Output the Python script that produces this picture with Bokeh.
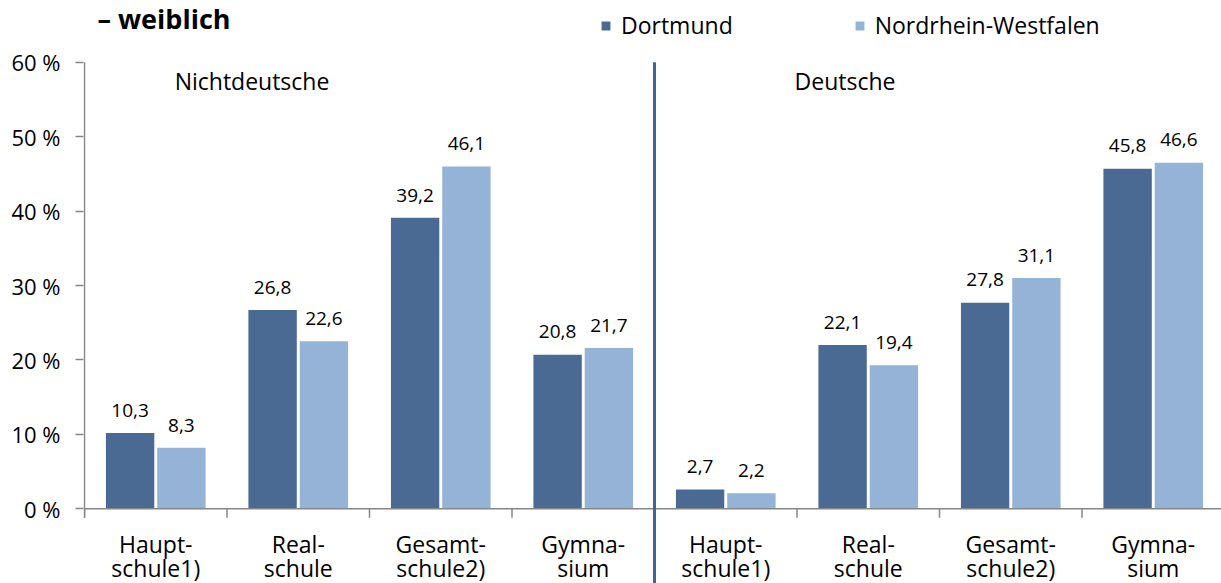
from bokeh.plotting import figure
from bokeh.models import Range1d, FixedTicker, Label, Legend, LegendItem, ColumnDataSource
from bokeh.core.properties import value
from bokeh.embed import file_html
from bokeh.resources import INLINE

# ---------------- data ----------------
title_text = "– weiblich"
groups = ["Nichtdeutsche", "Deutsche"]
schools = ["Haupt-\nschule1)", "Real-\nschule", "Gesamt-\nschule2)", "Gymna-\nsium"]
series = ["Dortmund", "Nordrhein-Westfalen"]
dortmund = [10.3, 26.8, 39.2, 20.8, 2.7, 22.1, 27.8, 45.8]
nrw = [8.3, 22.6, 46.1, 21.7, 2.2, 19.4, 31.1, 46.6]
y_ticks = [0, 10, 20, 30, 40, 50, 60]

# ---------------- styles / layout ----------------
FONT = "Open Sans"
C_DO = "#4A6A94"
C_NRW = "#95B3D7"
C_AXIS = "#868686"
C_DIV = "#3F6597"

PAGE_OFF = 0             # figure's top-left position on the page
W, H = 1221, 583
AXIS_PAGE_X = 84         # page x of the y axis
LEFT = AXIS_PAGE_X - 1 - PAGE_OFF
PX_CAT = 142.5           # pixels per category
PX_PCT = 7.443           # pixels per percent
ZERO_PAGE = 508.3        # page y of 0 %
FRAME_LEFT_PAGE = PAGE_OFF + LEFT
x_start = (FRAME_LEFT_PAGE - AXIS_PAGE_X) / PX_CAT
x_end = (PAGE_OFF + W - AXIS_PAGE_X) / PX_CAT
y_end = (ZERO_PAGE - PAGE_OFF) / PX_PCT
y_start = (ZERO_PAGE - (PAGE_OFF + H)) / PX_PCT
GLYPH_TXT_SHIFT = 6      # renderer draws text a bit low; compensate
LABEL_TXT_SHIFT = 8


def dx(page_x):
    return (page_x - AXIS_PAGE_X) / PX_CAT


def dy(page_y):
    return (ZERO_PAGE - page_y) / PX_PCT


n = len(schools) * len(groups)
cat_labels = schools * len(groups)
centers = [i + 0.5 for i in range(n)]
off = 0.18
bw = 0.35


def fmt(v):
    return f"{v:.1f}".replace(".", ",")


src = ColumnDataSource(dict(
    xd=[c - off for c in centers],
    xn=[c + off for c in centers],
    dortmund=dortmund,
    nrw=nrw,
    ld=[fmt(v) for v in dortmund],
    ln=[fmt(v) for v in nrw],
))

p = figure(width=W, height=H, x_range=Range1d(x_start, x_end), y_range=Range1d(y_start, y_end),
           output_backend="svg", toolbar_location=None, x_axis_location=None,
           min_border_left=LEFT, min_border_right=0, min_border_top=0, min_border_bottom=0)
p.grid.visible = False
p.outline_line_color = None

# y axis
ya = p.yaxis[0]
ya.ticker = FixedTicker(ticks=y_ticks)
ya.major_label_overrides = {t: f"{t} %" for t in y_ticks}
ya.axis_line_color = None
ya.major_tick_line_color = C_AXIS
ya.major_tick_line_width = 1.5
ya.major_tick_out = 8
ya.major_tick_in = 0
ya.minor_tick_line_color = None
ya.major_label_text_font = FONT
ya.major_label_text_font_size = "22px"
ya.major_label_text_color = "black"
ya.major_label_standoff = 15

tick_len = 9 / PX_PCT
bounds = list(range(n + 1))

# bars
r1 = p.vbar(x="xd", top="dortmund", width=bw, bottom=0, source=src,
            fill_color=C_DO, line_color="white", line_width=1.5)
r2 = p.vbar(x="xn", top="nrw", width=bw, bottom=0, source=src,
            fill_color=C_NRW, line_color="white", line_width=1.5)

# axis lines and ticks
p.segment(x0=[0], y0=[-tick_len], x1=[0], y1=[y_ticks[-1]], line_color=C_AXIS, line_width=1.5)
p.segment(x0=[0], y0=[0], x1=[n], y1=[0], line_color=C_AXIS, line_width=1.5)
p.segment(x0=bounds, y0=[0] * len(bounds), x1=bounds, y1=[-tick_len] * len(bounds),
          line_color=C_AXIS, line_width=1.5)

# divider between groups
half = len(schools)
p.segment(x0=[half], y0=[y_ticks[-1]], x1=[half], y1=[y_start], line_color=C_DIV, line_width=3)

# value labels
p.text(x="xd", y="dortmund", text="ld", source=src, text_align="center", text_baseline="alphabetic",
       y_offset=-16 - GLYPH_TXT_SHIFT, text_font=value(FONT), text_font_size="19px", text_color="black")
p.text(x="xn", y="nrw", text="ln", source=src, text_align="center", text_baseline="alphabetic",
       y_offset=-16 - GLYPH_TXT_SHIFT, text_font=value(FONT), text_font_size="19px", text_color="black")

# category labels (two lines)
line1 = [s.split("\n")[0] for s in cat_labels]
line2 = [s.split("\n")[1] for s in cat_labels]
p.text(x=centers, y=[0] * n, text=line1, text_align="center", text_baseline="alphabetic",
       y_offset=41 - GLYPH_TXT_SHIFT, text_font=value(FONT), text_font_size="23px", text_color="black")
p.text(x=centers, y=[0] * n, text=line2, text_align="center", text_baseline="alphabetic",
       y_offset=65 - GLYPH_TXT_SHIFT, text_font=value(FONT), text_font_size="23px", text_color="black")

# group labels and title
p.add_layout(Label(x=dx(251.5), y=dy(88 - LABEL_TXT_SHIFT), text=groups[0], text_align="center",
                   text_baseline="alphabetic", text_font=FONT, text_font_size="23px", text_color="black"))
p.add_layout(Label(x=dx(844.5), y=dy(88 - LABEL_TXT_SHIFT), text=groups[1], text_align="center",
                   text_baseline="alphabetic", text_font=FONT, text_font_size="23px", text_color="black"))
p.add_layout(Label(x=dx(97), y=dy(27 - LABEL_TXT_SHIFT - 1), text=title_text, text_align="left",
                   text_baseline="alphabetic", text_font=FONT, text_font_size="27px",
                   text_font_style="bold", text_color="black"))

# legend
legend = Legend(items=[LegendItem(label=series[0], renderers=[r1]),
                       LegendItem(label=series[1], renderers=[r2])],
                location=(599 - FRAME_LEFT_PAGE, H - 33 - (8 - PAGE_OFF)), orientation="horizontal",
                border_line_color=None, background_fill_alpha=0, padding=0, margin=0,
                spacing=120, label_standoff=9, glyph_width=13, glyph_height=13,
                label_text_font=FONT, label_text_font_size="23px", label_text_color="black")
p.add_layout(legend)

open("out.html", "w").write(file_html(p, INLINE))
